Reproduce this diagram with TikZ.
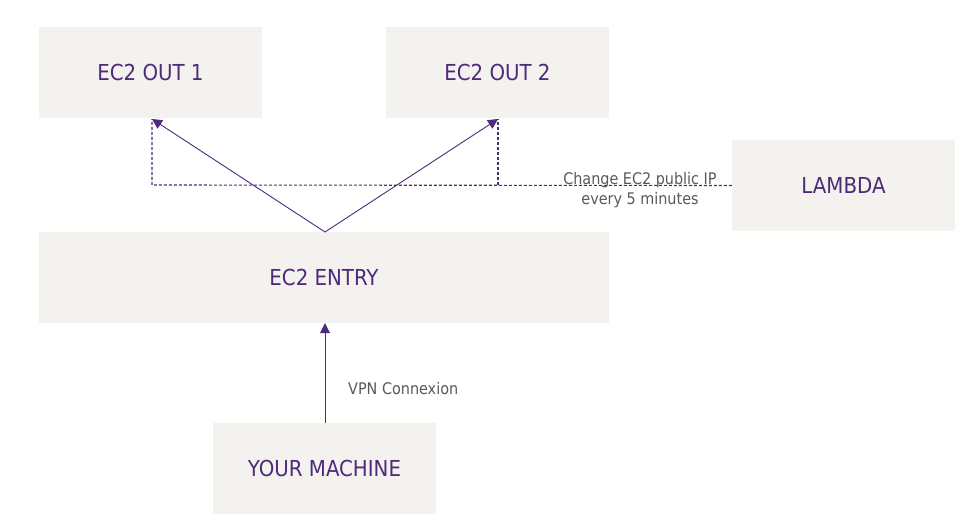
\documentclass[tikz,border=0pt]{standalone}
\usepackage{fontspec}
\setmainfont{DejaVu Sans Condensed}
\usetikzlibrary{arrows.meta}
\definecolor{boxfill}{HTML}{F3F2EF}
\definecolor{purp}{HTML}{4E2A7A}
\definecolor{lbl}{HTML}{595959}
\tikzset{
  box/.style={fill=boxfill, draw=none, minimum width=223pt, minimum height=91pt, inner sep=0pt, text=purp, font=\fontsize{22}{26}\selectfont},
  conn/.style={draw=purp, line width=0.9pt, -{Triangle[length=10pt,width=10pt]}},
  dotconn/.style={draw=purp, line width=1.1pt, dash pattern=on 3pt off 2pt},
  lab/.style={text=lbl, font=\fontsize{16}{20}\selectfont, align=center, inner sep=0pt}
}
\begin{document}
\begin{tikzpicture}[x=1pt,y=-1pt]
\useasboundingbox (0,0) rectangle (970,525);
\node[box] (out1) at (150.5,72.5) {EC2 OUT 1};
\node[box] (out2) at (497.5,72.5) {EC2 OUT 2};
\node[box] (lambda) at (843.5,185.5) {LAMBDA};
\node[box, minimum width=570pt] (entry) at (324,277.5) {EC2 ENTRY};
\node[box] (mach) at (324.5,468.5) {YOUR MACHINE};
\coordinate (etop) at (325,232);
\coordinate (t1) at (152,119);
\coordinate (t2) at (498,119);
\coordinate (d1) at (152,185);
\coordinate (d2) at (498,185);
\node[lab] (chg) at (640,190) {Change EC2 public IP\\every 5 minutes};
\draw[conn] (etop) -- (t1);
\draw[conn] (etop) -- (t2);
\draw[dotconn] (lambda.west) -- (d1) -- (t1);
\draw[dotconn] (d2) -- (t2);
\draw[conn] (mach.north -| etop) -- (entry.south -| etop);
\node[lab, anchor=west] (vpn) at (348,389) {VPN Connexion};
\end{tikzpicture}
\end{document}
